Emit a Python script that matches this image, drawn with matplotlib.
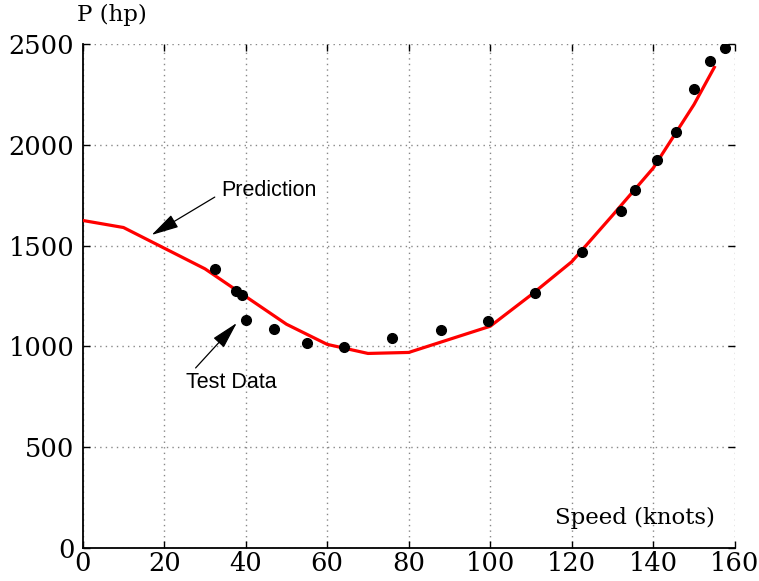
import matplotlib
matplotlib.use('Agg')
import matplotlib.pyplot as plt

# Predicted power curve
pred_speed = [0, 10, 30, 50, 60, 70, 80, 100, 110, 120, 130, 140, 150, 155]
pred_power = [1625, 1590, 1385, 1110, 1010, 965, 970, 1100, 1255, 1420, 1650, 1885, 2200, 2385]

# Measured test points
test_speed = [32.5, 37.7, 39, 40, 47, 55, 64, 76, 88, 99.5, 111, 122.5, 132,
              135.5, 141, 145.5, 150, 154, 157.5]
test_power = [1385, 1275, 1255, 1130, 1085, 1015, 995, 1040, 1080, 1125, 1265, 1470, 1670,
              1775, 1925, 2065, 2275, 2415, 2480]

xticks = [0, 20, 40, 60, 80, 100, 120, 140, 160]
yticks = [0, 500, 1000, 1500, 2000, 2500]

fig = plt.figure(figsize=(7.59, 5.81), dpi=100)
ax = fig.add_axes([0.109, 0.057, 0.859, 0.867])

ax.plot(pred_speed, pred_power, color='red', linewidth=2.3, zorder=3)
ax.plot(test_speed, test_power, 'o', color='black', markersize=7, zorder=4)

ax.set_xlim(0, 160)
ax.set_ylim(0, 2500)
ax.set_xticks(xticks)
ax.set_yticks(yticks)

# dotted grid
ax.grid(True, linestyle=(0, (1, 3)), color='#888888', linewidth=1.0)

for s in ['top', 'right']:
    ax.spines[s].set_visible(False)
for s in ['left', 'bottom']:
    ax.spines[s].set_linewidth(1.3)

ax.tick_params(direction='in', length=5, width=1, top=True, right=True,
               labelsize=18.5)
ax.tick_params(axis='x', pad=2)
ax.tick_params(axis='y', pad=6)
for lab in ax.get_xticklabels() + ax.get_yticklabels():
    lab.set_family('DejaVu Serif')

ax.text(0.044, 1.057, 'P (hp)', transform=ax.transAxes, ha='center', va='center',
        fontsize=16.5, family='DejaVu Serif')
ax.text(0.847, 0.06, 'Speed (knots)', transform=ax.transAxes, ha='center', va='center',
        fontsize=16.5, family='DejaVu Serif')

# annotations
arrow = dict(arrowstyle='-|>,head_length=0.85,head_width=0.22', color='black', lw=0.9,
             mutation_scale=20, shrinkA=0, shrinkB=0)
ax.annotate('', xy=(16.9, 1553), xytext=(32.4, 1741), arrowprops=arrow)
ax.text(33.9, 1776, 'Prediction', fontsize=15.5, family='Liberation Sans',
        va='center', ha='left')
ax.annotate('', xy=(37.8, 1116), xytext=(27.7, 893), arrowprops=arrow)
ax.text(25.3, 823, 'Test Data', fontsize=15.5, family='Liberation Sans',
        va='center', ha='left')

fig.savefig('out.png', dpi=100)
